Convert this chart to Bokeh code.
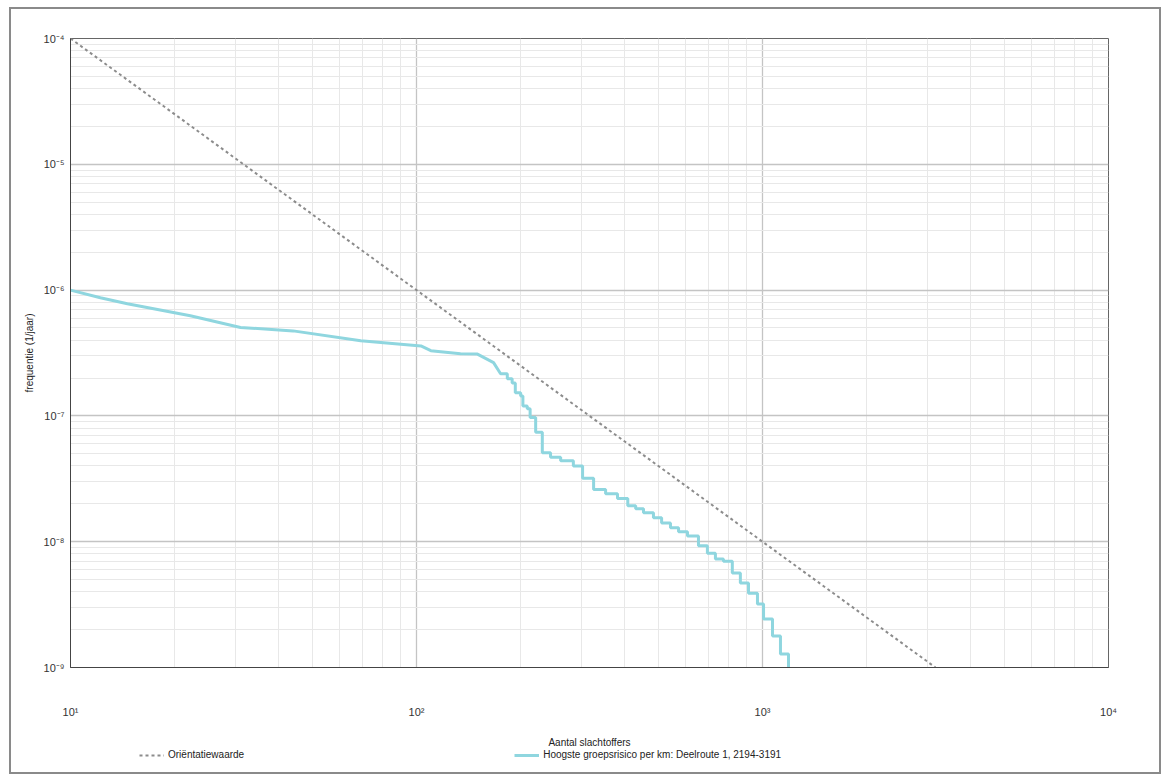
from bokeh.plotting import figure
from bokeh.layouts import column
from bokeh.models import (FixedTicker, CustomJSTickFormatter, Legend, LegendItem,
                          Range1d)
from bokeh.embed import file_html
from bokeh.resources import INLINE

# ---- data ----
x_ticks = [10, 100, 1000, 10000]
y_ticks = [1e-9, 1e-8, 1e-7, 1e-6, 1e-5, 1e-4]

# Oriëntatiewaarde (orientation value line)
orient_x = [10, 3162.3]
orient_y = [1e-4, 1e-9]

# Group risk curve: smooth upper part
curve_x = [10, 12.2, 14.6, 22.2, 31, 44, 69, 103, 110, 134, 150, 167, 175]
curve_y = [1.0e-6, 8.7e-7, 7.8e-7, 6.25e-7, 5.05e-7, 4.74e-7, 3.95e-7, 3.6e-7,
           3.3e-7, 3.12e-7, 3.1e-7, 2.65e-7, 2.16e-7]
# staircase part: x where a step down occurs, level after the step
step_x = [183, 189, 193, 200, 203, 209, 213, 221, 231, 244, 261, 284, 302, 325,
          352, 381, 408, 430, 453, 484, 511, 542, 572, 607, 653, 693, 731, 771,
          818, 863, 911, 967, 1007, 1069, 1127, 1189]
step_y = [1.97e-7, 1.83e-7, 1.53e-7, 1.44e-7, 1.2e-7, 1.14e-7, 9.7e-8, 7.4e-8,
          5.1e-8, 4.7e-8, 4.4e-8, 4.0e-8, 3.2e-8, 2.6e-8, 2.4e-8, 2.2e-8,
          1.93e-8, 1.83e-8, 1.70e-8, 1.55e-8, 1.41e-8, 1.29e-8, 1.20e-8, 1.11e-8,
          9.3e-9, 8.1e-9, 7.3e-9, 7.0e-9, 5.65e-9, 4.7e-9, 3.9e-9, 3.2e-9,
          2.43e-9, 1.78e-9, 1.28e-9, 1.0e-9]

legend_labels = ["Oriëntatiewaarde",
                 "Hoogste groepsrisico per km: Deelroute 1, 2194-3191"]
x_label = "Aantal slachtoffers"
y_label = "frequentie (1/jaar)"

# build staircase vertices
rx = list(curve_x)
ry = list(curve_y)
for sx, sy in zip(step_x, step_y):
    rx.append(sx); ry.append(ry[-1])
    rx.append(sx); ry.append(sy)

FONT = "Liberation Sans"
ORIENT_STYLE = dict(line_color="#8c8c8c", line_width=2, line_dash="3 3")
CURVE_STYLE = dict(line_color="#8fd6df", line_width=3)

W = 1148
p = figure(width=W, height=741, x_axis_type="log", y_axis_type="log",
           x_range=Range1d(10, 10000), y_range=Range1d(1e-9, 1e-4),
           output_backend="svg", toolbar_location=None,
           min_border_left=59, min_border_top=29, min_border_right=51,
           min_border_bottom=83, background_fill_color="white",
           border_fill_color="white")

minor_x = [m * d for d in [10, 100, 1000] for m in range(2, 10)]
minor_y = [m * d for d in [1e-9, 1e-8, 1e-7, 1e-6, 1e-5] for m in range(2, 10)]
p.xaxis.ticker = FixedTicker(ticks=x_ticks, minor_ticks=minor_x)
p.yaxis.ticker = FixedTicker(ticks=y_ticks, minor_ticks=minor_y)

fmt = CustomJSTickFormatter(code="""
const sup = {'-':'\u207b','0':'\u2070','1':'\u00b9','2':'\u00b2','3':'\u00b3','4':'\u2074',
             '5':'\u2075','6':'\u2076','7':'\u2077','8':'\u2078','9':'\u2079'};
const e = Math.round(Math.log10(tick));
return '10' + String(e).split('').map(c => sup[c]).join('');
""")
p.xaxis.formatter = fmt
p.yaxis.formatter = fmt

for ax in (p.xaxis, p.yaxis):
    ax.major_label_text_font = FONT
    ax.major_label_text_font_size = "11px"
    ax.major_label_text_color = "#333333"
    ax.axis_label_text_font = FONT
    ax.axis_label_text_font_size = "10px"
    ax.axis_label_text_font_style = "normal"
    ax.axis_label_text_color = "#222222"
    ax.axis_line_color = "#444444"
    ax.major_tick_out = 0
    ax.major_tick_in = 0
    ax.minor_tick_out = 0
    ax.minor_tick_in = 0

p.xaxis.axis_label = x_label
p.yaxis.axis_label = y_label
p.xaxis.major_label_standoff = 38
p.xaxis.axis_label_standoff = 16
p.yaxis.major_label_standoff = 6
p.yaxis.axis_label_standoff = 6

p.grid.grid_line_color = "#c4c4c4"
p.grid.grid_line_width = 1.3
p.grid.minor_grid_line_color = "#e8e8e8"
p.grid.minor_grid_line_width = 1
p.outline_line_color = "#666666"

p.line(orient_x, orient_y, **ORIENT_STYLE)
p.line(rx, ry, **CURVE_STYLE)

# legend strip below the chart: same series, drawn outside this strip's ranges
p2 = figure(width=W, height=22, x_range=Range1d(0, 1), y_range=Range1d(0, 1),
            output_backend="svg", toolbar_location=None,
            x_axis_location=None, y_axis_location=None, min_border=0,
            outline_line_color=None, background_fill_color="white",
            border_fill_color="white")
p2.grid.visible = False
l1 = p2.line(orient_x, orient_y, **ORIENT_STYLE)
l2 = p2.line(rx, ry, **CURVE_STYLE)
legend = Legend(items=[LegendItem(label=legend_labels[0], renderers=[l1]),
                       LegendItem(label=legend_labels[1], renderers=[l2])],
                orientation="horizontal", location=(69, 12),
                label_text_font=FONT, label_text_font_size="10px",
                label_text_color="#222222", glyph_width=25, glyph_height=10,
                label_height=10, spacing=270, padding=0, margin=0,
                border_line_color=None, background_fill_alpha=0,
                label_standoff=4)
p2.add_layout(legend)

layout = column(p, p2, spacing=0,
                styles={"border": "2px solid #8a8a8a",
                        "margin": "7px 0px 0px 9px",
                        "background-color": "white"})

open("out.html", "w").write(file_html(layout, INLINE))
